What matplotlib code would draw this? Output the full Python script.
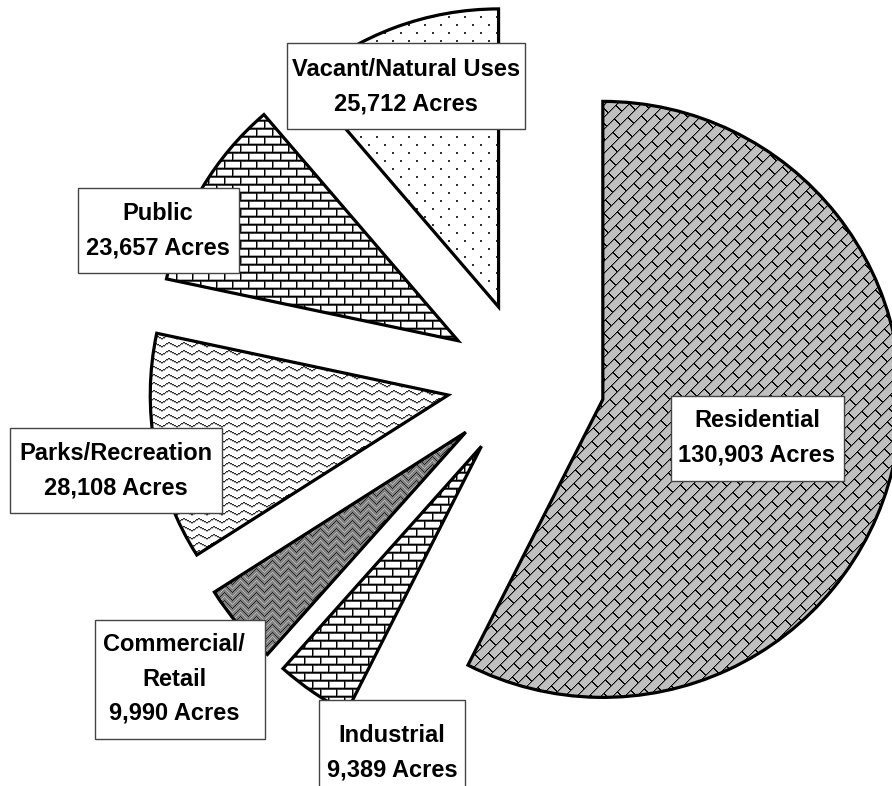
import numpy as np
import matplotlib
matplotlib.use("Agg")
import matplotlib.pyplot as plt
from matplotlib.patches import Rectangle

# ---------------- data ----------------
categories = ["Residential", "Industrial", "Commercial/\nRetail",
              "Parks/Recreation", "Public", "Vacant/Natural Uses"]
acres = [130903, 9389, 9990, 28108, 23657, 25712]

# ---------------- layout (pixels, image coords y-down) ----------------
W, H = 892, 786
CENTER = (526, 381)
RADIUS = 298
EXPLODE = 79
# label boxes: x0, y0, x1, y1
boxes = [(671, 396, 844, 481), (319, 700, 465, 800), (95, 620, 265, 739),
         (10, 428, 222, 513), (78, 188, 239, 273), (287, 43, 525, 129)]
# text block centres
text_pos = [(757, 438), (392, 753), (174, 679), (116, 471), (158, 231), (406, 87)]

plt.rcParams["font.family"] = ["Liberation Sans", "DejaVu Sans"]

fig = plt.figure(figsize=(W / 100, H / 100), dpi=100)
ax = fig.add_axes([0, 0, 1, 1])

wedges, _ = ax.pie(acres, radius=RADIUS, center=(CENTER[0], H - CENTER[1]),
                   explode=[EXPLODE] * len(acres), startangle=90,
                   counterclock=False, frame=False,
                   wedgeprops=dict(facecolor="none", edgecolor="black",
                                   linewidth=2.3, joinstyle="miter", zorder=3))

# ---------------- fill textures ----------------
yy, xx = np.mgrid[0:H, 0:W]


def tex_residential():
    t = np.full((H, W), 192.0)
    s = xx + yy
    d = xx - yy
    k = s // 12
    sm = s % 12
    t[sm == 1] = 120
    t[sm == 0] = 10
    dm = (d + (k % 2) * 15) % 30
    t[(dm == 0) | (dm == 1)] = 10
    return t


def tex_brick():
    t = np.full((H, W), 255.0)
    ym = yy % 8
    row = yy // 8
    xm = (xx + (row % 2) * 8) % 16
    t[ym == 7] = 170
    t[xm == 1] = 130
    t[ym == 1] = 70
    t[ym == 0] = 0
    t[xm == 0] = 0
    return t


def tex_commercial():
    t = np.full((H, W), 128.0)
    tri = np.abs((xx % 16) - 8)
    ym = (yy + tri) % 8
    t[ym == 4] = 185
    t[ym == 0] = 35
    return t


def tex_wave():
    t = np.full((H, W), 255.0)
    off = np.round(1.6 * np.sin(2 * np.pi * xx / 15)).astype(int)
    ym = (yy + off) % 8
    t[ym == 1] = 175
    t[ym == 0] = 45
    return t


def tex_dots():
    t = np.full((H, W), 255.0)
    m1 = ((xx % 16) < 2) & ((yy % 16) < 2)
    m2 = (((xx + 8) % 16) < 2) & (((yy + 8) % 16) < 2)
    t[m1 | m2] = 50
    return t


textures = [tex_residential(), tex_brick(), tex_commercial(),
            tex_wave(), tex_brick(), tex_dots()]

for w, t in zip(wedges, textures):
    im = ax.imshow(t, cmap="gray", vmin=0, vmax=255, extent=(0, W, 0, H),
                   origin="upper", interpolation="nearest", zorder=1)
    im.set_clip_path(w)

# ---------------- labels ----------------
for (x0, y0, x1, y1), (cx, cy), name, val in zip(boxes, text_pos, categories, acres):
    ax.add_patch(Rectangle((x0, H - y1), x1 - x0, y1 - y0, facecolor="white",
                           edgecolor="#444444", linewidth=1.0, zorder=5))
    ax.text(cx, H - cy, f"{name}\n{val:,} Acres", ha="center", va="center",
            multialignment="center", fontsize=17, fontweight="bold",
            linespacing=1.62, zorder=6)

ax.set_xlim(0, W)
ax.set_ylim(0, H)
ax.set_aspect("equal")
ax.axis("off")
fig.savefig("out.png", dpi=100)
